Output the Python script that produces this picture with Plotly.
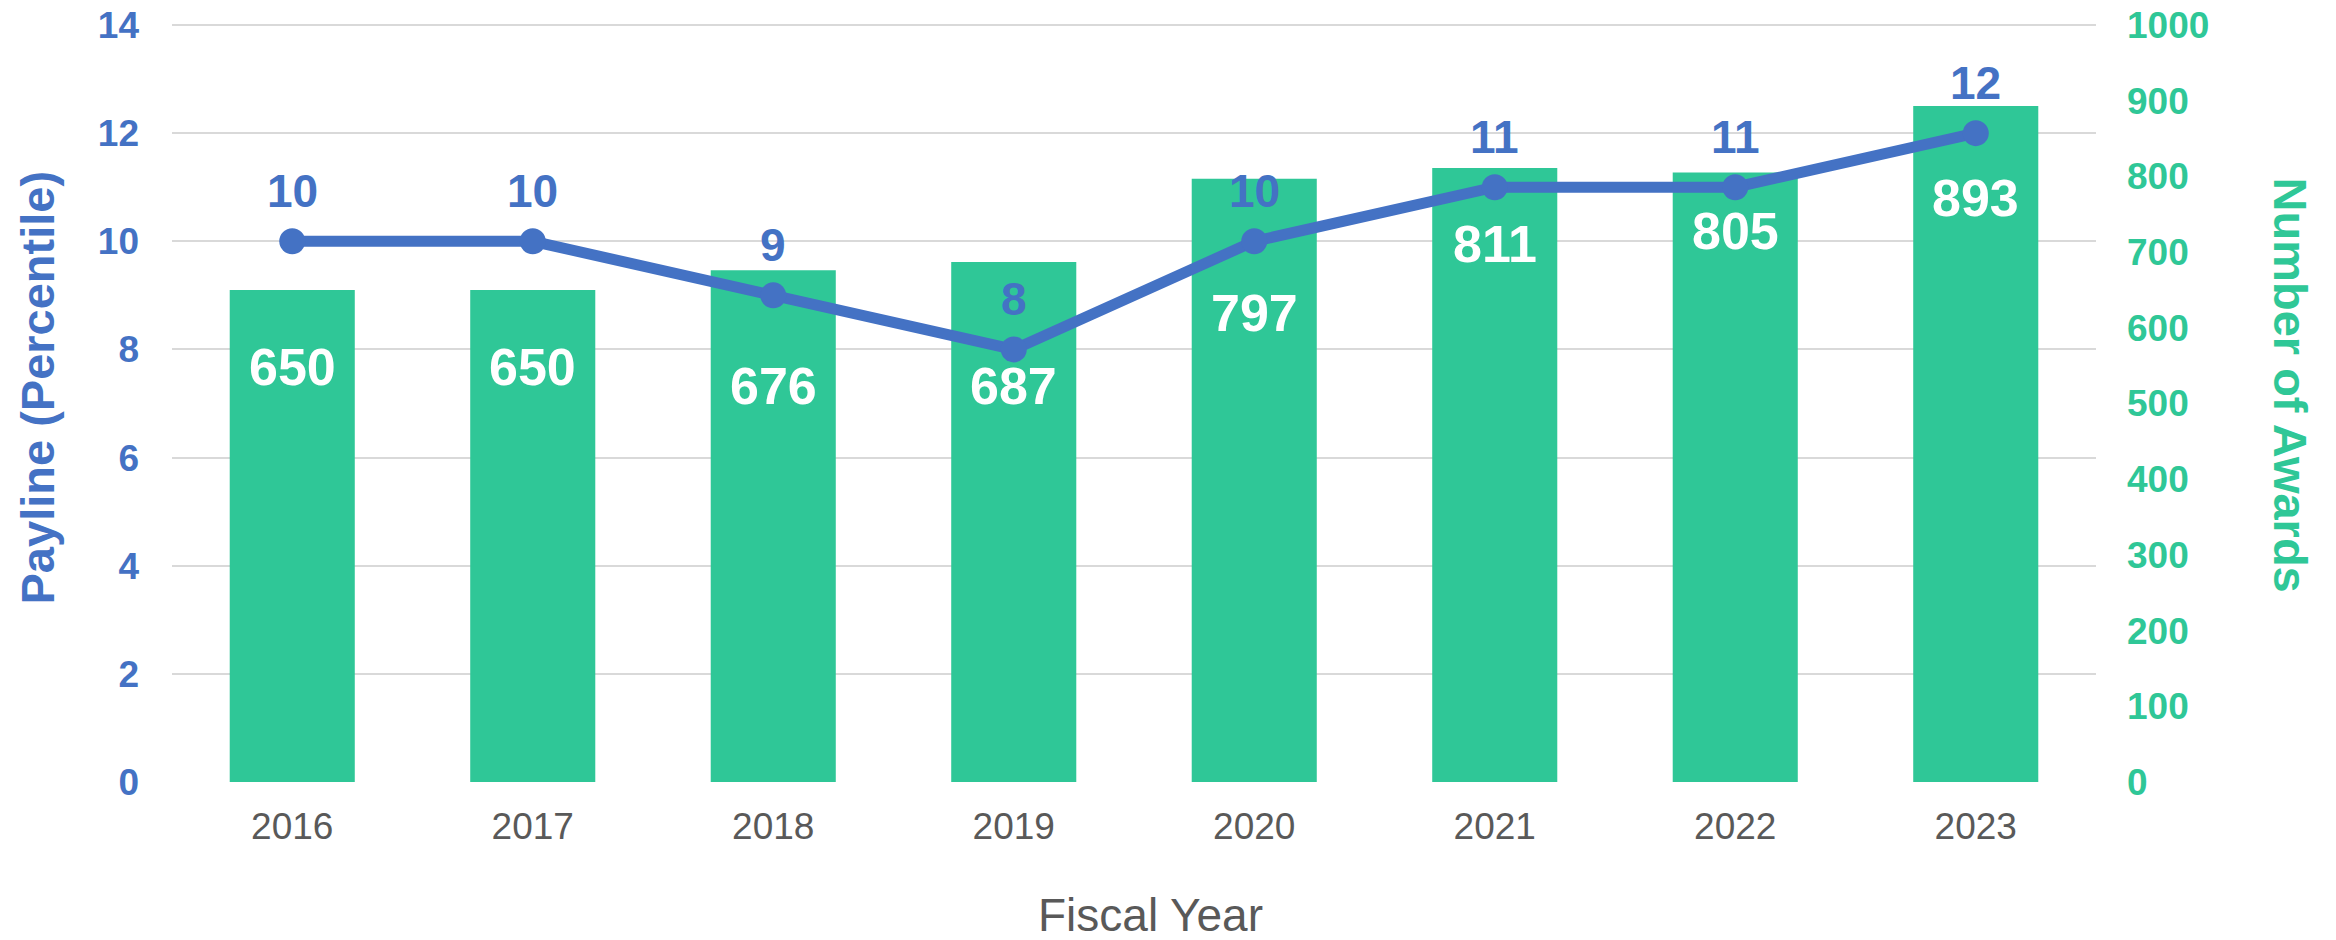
import plotly.graph_objects as go

years = ["2016", "2017", "2018", "2019", "2020", "2021", "2022", "2023"]
awards = [650, 650, 676, 687, 797, 811, 805, 893]
payline = [10, 10, 9, 8, 10, 11, 11, 12]

# style: label offsets (px below bar top) chosen to match reference layout
bar_label_drop = [77, 77, 116, 124, 134, 76, 58, 92]

BLUE = "#4472C4"
GREEN = "#2FC797"
GREY = "#595959"
FONT = "Arial, Liberation Sans, sans-serif"

PL, PW = 172, 1924  # plot-area left and width in window pixels
PX_PER_UNIT = 757 / 14
HEADROOM = 3 / PX_PER_UNIT  # small headroom so the top gridline is drawn inside the plot
LEFT_TOP = 14 + HEADROOM
RIGHT_TOP = 1000 * LEFT_TOP / 14

fig = go.Figure()
fig.add_trace(go.Bar(x=years, y=awards, yaxis="y", marker=dict(color=GREEN, line=dict(width=0)),
                     hoverinfo="skip", showlegend=False))
fig.add_trace(go.Scatter(x=years, y=payline, yaxis="y2", mode="lines+markers",
                         line=dict(color=BLUE, width=11), marker=dict(color=BLUE, size=26),
                         showlegend=False))

ann = []
for i, v in enumerate(payline):
    ann.append(dict(x=i, y=v, xref="x", yref="y2", text=str(v), showarrow=False, yshift=50,
                    xanchor="center", yanchor="middle",
                    font=dict(family=FONT, size=46, color=BLUE, weight="bold")))
for i, (v, d) in enumerate(zip(awards, bar_label_drop)):
    ann.append(dict(x=i, y=v, xref="x", yref="y", text=str(v), showarrow=False, yshift=-d,
                    xanchor="center", yanchor="middle",
                    font=dict(family=FONT, size=52, color="white", weight="bold")))
# axis titles (positioned relative to the 0..14 band)
ann.append(dict(x=(37 - PL) / PW, y=7, xref="paper", yref="y2", yshift=16,
                text="Payline (Percentile)", textangle=-90, showarrow=False,
                xanchor="center", yanchor="middle",
                font=dict(family=FONT, size=47, color=BLUE, weight="bold")))
ann.append(dict(x=(2290 - PL) / PW, y=7, xref="paper", yref="y2", yshift=19,
                text="Number of Awards", textangle=90, showarrow=False,
                xanchor="center", yanchor="middle",
                font=dict(family=FONT, size=47, color=GREEN, weight="bold")))
ann.append(dict(text="Fiscal Year", x=(1150 - PL) / PW, y=0, xref="paper", yref="paper",
                xanchor="center", yanchor="middle", yshift=-133, showarrow=False,
                font=dict(family=FONT, size=46, color=GREY)))

fig.update_layout(
    width=2336, height=940,
    margin=dict(l=PL, r=240, t=25 - 3, b=158),
    paper_bgcolor="white", plot_bgcolor="white",
    bargap=0.48,
    annotations=ann,
    xaxis=dict(type="category", range=[-0.5, 7.5], automargin=False, showgrid=False,
               showline=False, zeroline=False, ticks="",
               tickfont=dict(family=FONT, size=37, color=GREY), ticklabelstandoff=19),
    yaxis=dict(side="right", range=[0, RIGHT_TOP], tickvals=list(range(0, 1001, 100)), showgrid=False,
               automargin=False, zeroline=False, showline=False, ticks="", ticklabelstandoff=30,
               ticklabeloverflow="allow",
               tickfont=dict(family=FONT, size=37, color=GREEN, weight="bold")),
    yaxis2=dict(side="left", overlaying="y", range=[0, LEFT_TOP], tickvals=list(range(0, 15, 2)),
                automargin=False, showgrid=True, gridcolor="#D9D9D9", gridwidth=2,
                zeroline=False, showline=False, ticks="", ticklabelstandoff=32,
                ticklabeloverflow="allow",
                tickfont=dict(family=FONT, size=37, color=BLUE, weight="bold")),
)
fig.write_html("out.html", config={"displayModeBar": False},
               post_script="document.body.style.margin='0';document.body.style.overflow='hidden';")
